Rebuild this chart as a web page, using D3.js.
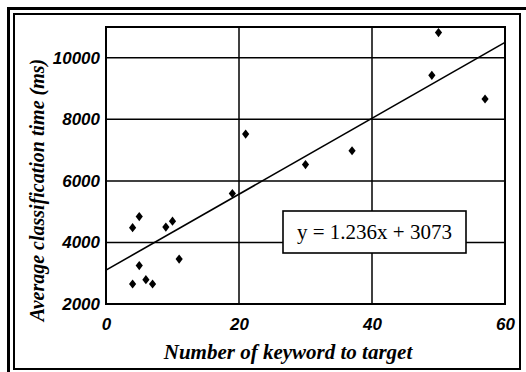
<!DOCTYPE html>
<html><head><meta charset="utf-8">
<script src="https://cdn.jsdelivr.net/npm/d3@7"></script>
<style>body{margin:0;background:#fff}svg{display:block}</style>
</head><body>
<svg id="c" width="526" height="372"></svg>
<script>
const keywordCounts = [4, 4, 5, 5, 6, 7, 9, 10, 11, 19, 21, 30, 37, 49, 50, 57];
const avgTimes = [2650, 4480, 4840, 3250, 2790, 2650, 4500, 4690, 3460, 5590, 7520, 6530, 6980, 9430, 10820, 8660];
const trendX = [0, 60];
const trendY = [3100, 10500];
const xTicks = [0, 20, 40, 60];
const yTicks = [2000, 4000, 6000, 8000, 10000];
const equationText = "y = 1.236x + 3073";
const xTitle = "Number of keyword to target";
const yTitle = "Average classification time (ms)";

const svg = d3.select("#c");
const L = 106, R = 505, T = 27, B = 304;
const x = d3.scaleLinear().domain([0, 60]).range([L, R]);
const y = d3.scaleLinear().domain([2000, 11000]).range([B, T]);

// frame
svg.append("rect").attr("x", 8.5).attr("y", 8.5).attr("width", 540).attr("height", 400)
  .attr("fill", "none").attr("stroke", "#000").attr("stroke-width", 3);
svg.append("rect").attr("x", 14).attr("y", 14).attr("width", 506).attr("height", 355)
  .attr("fill", "none").attr("stroke", "#000").attr("stroke-width", 2);

// gridlines
svg.append("g").selectAll("line").data(yTicks.slice(1)).join("line")
  .attr("x1", L).attr("x2", R).attr("y1", d => y(d)).attr("y2", d => y(d))
  .attr("stroke", "#000").attr("stroke-width", 1.5);
svg.append("g").selectAll("line").data(xTicks.slice(1, -1)).join("line")
  .attr("y1", T).attr("y2", B).attr("x1", d => x(d)).attr("x2", d => x(d))
  .attr("stroke", "#000").attr("stroke-width", 1.5);

// plot border
svg.append("rect").attr("x", L).attr("y", T).attr("width", R - L).attr("height", B - T)
  .attr("fill", "none").attr("stroke", "#000").attr("stroke-width", 2);

// axes labels via d3 axes (no lines)
const xAxis = svg.append("g").attr("transform", `translate(0,${B})`)
  .call(d3.axisBottom(x).tickValues(xTicks).tickSize(0).tickPadding(14).tickFormat(d3.format("d")));
const yAxis = svg.append("g").attr("transform", `translate(${L},0)`)
  .call(d3.axisLeft(y).tickValues(yTicks).tickSize(0).tickPadding(6).tickFormat(d3.format("d")));
[xAxis, yAxis].forEach(a => {
  a.select(".domain").remove();
  a.selectAll("text").attr("font-family", "Liberation Sans, Arial, sans-serif")
    .attr("font-weight", "bold").attr("font-style", "italic").attr("font-size", 17).attr("fill", "#000");
});

// trend line
svg.append("path").datum(trendX.map((d, i) => [d, trendY[i]]))
  .attr("d", d3.line().x(d => x(d[0])).y(d => y(d[1])))
  .attr("stroke", "#000").attr("stroke-width", 1.6).attr("fill", "none");

// diamonds
const diamond = { draw(ctx, size) { const w = 3.6, h = 4.6; ctx.moveTo(0, -h); ctx.lineTo(w, 0); ctx.lineTo(0, h); ctx.lineTo(-w, 0); ctx.closePath(); } };
svg.append("g").selectAll("path").data(keywordCounts.map((d, i) => [d, avgTimes[i]])).join("path")
  .attr("transform", d => `translate(${x(d[0])},${y(d[1])})`)
  .attr("d", d3.symbol().type(diamond)).attr("fill", "#000");

// equation box
const bx = 283, by = 211, bw = 183, bh = 42;
svg.append("rect").attr("x", bx).attr("y", by).attr("width", bw).attr("height", bh)
  .attr("fill", "#fff").attr("stroke", "#000").attr("stroke-width", 1.6);
svg.append("text").attr("x", bx + bw / 2).attr("y", 239).attr("text-anchor", "middle")
  .attr("font-family", "Liberation Serif, Times New Roman, serif").attr("font-size", 21)
  .text(equationText);

// titles
svg.append("text").attr("x", 288).attr("y", 359).attr("text-anchor", "middle")
  .attr("font-family", "Liberation Serif, Times New Roman, serif").attr("font-weight", "bold")
  .attr("font-style", "italic").attr("font-size", 21).text(xTitle);
svg.append("text").attr("transform", "translate(44,190) rotate(-90)").attr("text-anchor", "middle")
  .attr("font-family", "Liberation Serif, Times New Roman, serif").attr("font-weight", "bold")
  .attr("font-style", "italic").attr("font-size", 20).text(yTitle);
</script>
</body></html>
